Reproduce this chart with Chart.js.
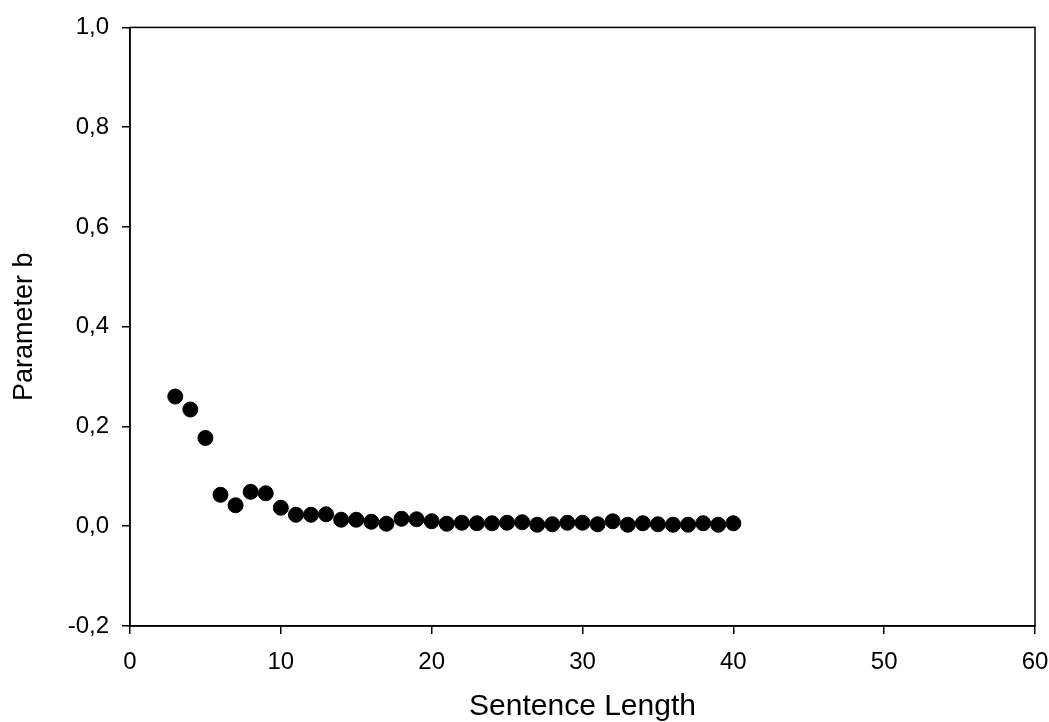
<!DOCTYPE html>
<html>
<head>
<meta charset="utf-8">
<script src="https://cdn.jsdelivr.net/npm/chart.js@4.4.0/dist/chart.umd.min.js"></script>
<style>
  html, body { margin: 0; padding: 0; background: #fff; }
  #wrap { width: 1049px; height: 722px; }
</style>
</head>
<body>
<div id="wrap"><canvas id="myChart" width="1049" height="722"></canvas></div>
<script>
// sentence length (x) and fitted parameter b (y)
const sentenceLength = [3, 4, 5, 6, 7, 8, 9, 10, 11, 12, 13, 14, 15, 16, 17, 18, 19, 20, 21,
  22, 23, 24, 25, 26, 27, 28, 29, 30, 31, 32, 33, 34, 35, 36, 37, 38, 39, 40];
const paramB = [0.260, 0.234, 0.177, 0.063, 0.042, 0.069, 0.066, 0.037, 0.023, 0.023, 0.024,
  0.013, 0.013, 0.009, 0.005, 0.015, 0.014, 0.010, 0.005, 0.007, 0.006, 0.006, 0.007, 0.008,
  0.003, 0.004, 0.007, 0.007, 0.004, 0.010, 0.003, 0.006, 0.004, 0.003, 0.003, 0.006, 0.003, 0.006];
const xTicks = [0, 10, 20, 30, 40, 50, 60];
const yTicks = [-0.2, 0.0, 0.2, 0.4, 0.6, 0.8, 1.0];

const points = sentenceLength.map((x, i) => ({ x: x, y: paramB[i] }));

const fontFamily = '"Liberation Sans", Arial, sans-serif';

// box around the plot area (top + right edges)
const frame = {
  id: 'frame',
  afterDraw(chart) {
    const a = chart.chartArea;
    const ctx = chart.ctx;
    ctx.save();
    ctx.strokeStyle = '#000';
    ctx.lineWidth = 1.5;
    ctx.strokeRect(a.left, a.top, a.right - a.left, a.bottom - a.top);
    ctx.restore();
  }
};

const ctx = document.getElementById('myChart').getContext('2d');
const myChart = new Chart(ctx, {
  type: 'scatter',
  data: {
    datasets: [{
      data: points,
      backgroundColor: '#000',
      borderColor: '#000',
      pointRadius: 7.5,
      pointHoverRadius: 7.5,
      showLine: false
    }]
  },
  options: {
    responsive: false,
    animation: false,
    events: [],
    layout: { padding: { left: 0, top: 26, right: 0, bottom: 0 } },
    plugins: { legend: { display: false }, tooltip: { enabled: false } },
    scales: {
      x: {
        type: 'linear',
        min: xTicks[0],
        max: xTicks[xTicks.length - 1],
        afterBuildTicks: s => { s.ticks = xTicks.map(v => ({ value: v })); },
        afterFit: s => { s.height = 96; s.paddingLeft = 0; s.paddingRight = 14; },
        grid: { drawOnChartArea: false, drawTicks: true, tickLength: 8, color: '#000', lineWidth: 1.5 },
        border: { display: true, color: '#000', width: 1.5 },
        ticks: {
          color: '#000',
          padding: 14,
          maxRotation: 0,
          font: { family: fontFamily, size: 24 }
        },
        title: {
          display: true,
          text: 'Sentence Length',
          color: '#000',
          padding: { top: 0, bottom: 0 },
          font: { family: fontFamily, size: 30, lineHeight: 1.0 }
        }
      },
      y: {
        type: 'linear',
        min: yTicks[0],
        max: yTicks[yTicks.length - 1],
        afterBuildTicks: s => { s.ticks = yTicks.map(v => ({ value: v })); },
        afterFit: s => { s.width = 130; },
        grid: { drawOnChartArea: false, drawTicks: true, tickLength: 8, color: '#000', lineWidth: 1.5 },
        border: { display: true, color: '#000', width: 1.5 },
        ticks: {
          color: '#000',
          padding: 13,
          font: { family: fontFamily, size: 24 },
          callback: v => Number(v).toFixed(1).replace('.', ',')
        },
        title: {
          display: true,
          text: 'Parameter b',
          color: '#000',
          padding: { top: 10, bottom: 0 },
          font: { family: fontFamily, size: 27, lineHeight: 1.1 }
        }
      }
    }
  },
  plugins: [frame]
});
</script>
</body>
</html>
